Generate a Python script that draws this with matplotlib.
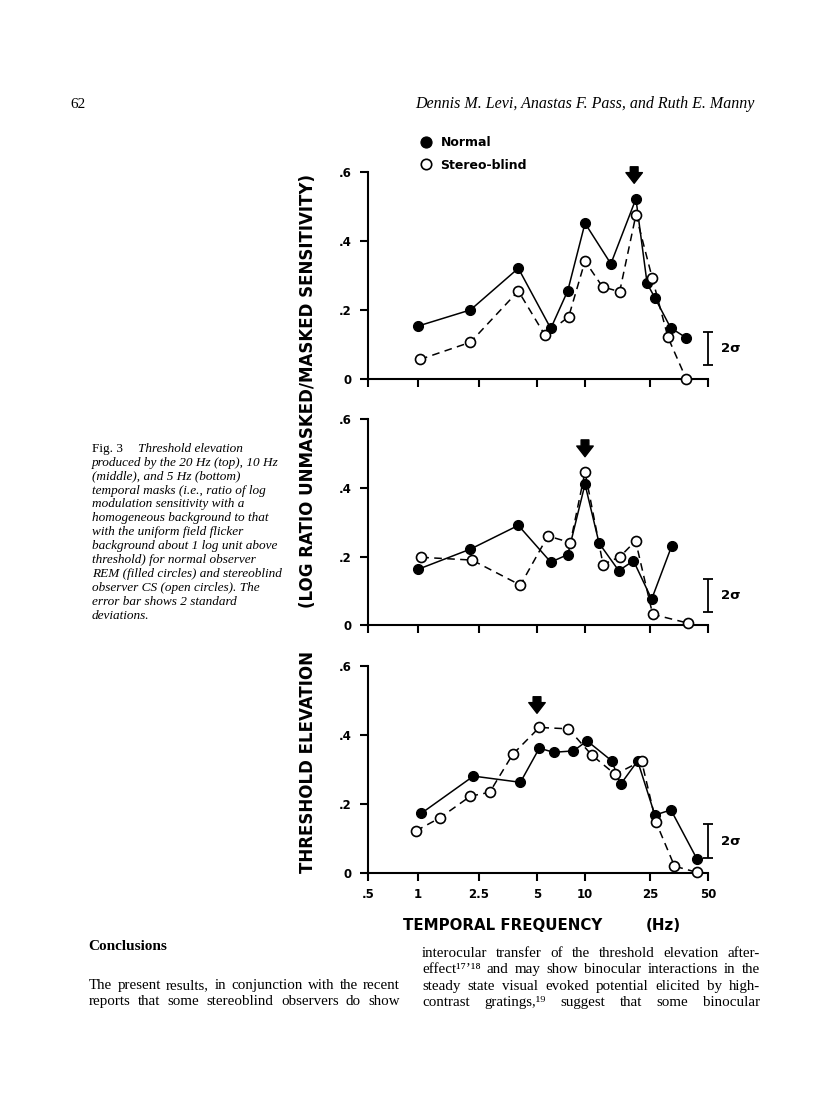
import numpy as np
import matplotlib
matplotlib.use("Agg")
import matplotlib.pyplot as plt
from matplotlib.lines import Line2D

# ---- data (frequency in Hz, threshold elevation) ----
top_normal_f = [1.0, 2.2, 4.0, 6.1, 7.8, 10.0, 14.4, 20.5, 24.0, 26.5, 32.0, 38.5]
top_normal_v = [0.153, 0.200, 0.321, 0.146, 0.256, 0.452, 0.334, 0.523, 0.277, 0.235, 0.148, 0.119]
top_stereo_f = [1.03, 2.2, 4.0, 5.6, 7.9, 10.0, 12.8, 16.3, 20.5, 25.7, 31.0, 38.5]
top_stereo_v = [0.056, 0.106, 0.255, 0.127, 0.180, 0.342, 0.267, 0.253, 0.476, 0.292, 0.120, 0.0]

mid_normal_f = [1.0, 2.2, 4.0, 6.1, 7.8, 10.0, 12.2, 16.1, 19.8, 25.5, 32.4]
mid_normal_v = [0.163, 0.222, 0.291, 0.184, 0.206, 0.411, 0.239, 0.159, 0.188, 0.076, 0.231]
mid_stereo_f = [1.05, 2.25, 4.1, 5.85, 8.1, 10.0, 12.9, 16.4, 20.4, 25.8, 39.6]
mid_stereo_v = [0.198, 0.190, 0.117, 0.260, 0.241, 0.447, 0.177, 0.200, 0.246, 0.032, 0.006]

bot_normal_f = [1.05, 2.3, 4.1, 5.17, 6.35, 8.45, 10.3, 14.6, 16.5, 21.0, 26.5, 32.1, 43.8]
bot_normal_v = [0.172, 0.280, 0.262, 0.361, 0.349, 0.353, 0.382, 0.324, 0.256, 0.324, 0.167, 0.182, 0.040]
bot_stereo_f = [0.97, 1.39, 2.2, 2.84, 3.74, 5.17, 7.87, 11.0, 15.3, 22.2, 26.8, 33.5, 43.8]
bot_stereo_v = [0.121, 0.159, 0.222, 0.233, 0.343, 0.421, 0.417, 0.341, 0.285, 0.324, 0.148, 0.019, 0.001]

mask_freq = [20, 10, 5]          # arrows: masking frequency of each panel
err_lo = [0.040, 0.040, 0.042]   # 2 sigma error bar
err_hi = [0.137, 0.134, 0.140]

x_ticks = [0.5, 1, 2.5, 5, 10, 25, 50]
x_ticklabels = [".5", "1", "2.5", "5", "10", "25", "50"]
y_ticks = [0, 0.2, 0.4, 0.6]
y_ticklabels = ["0", ".2", ".4", ".6"]

# hand-drawn axis: tick spacing in the original is not exactly logarithmic
tick_px = [0, 50, 111, 169, 217, 282, 340]


def fwd(x):
    x = np.clip(np.asarray(x, dtype=float), 1e-6, None)
    return np.interp(np.log10(x), np.log10(x_ticks), tick_px)


def inv(p):
    return 10 ** np.interp(np.asarray(p, dtype=float), tick_px, np.log10(x_ticks))


W, H = 816, 1112
fig = plt.figure(figsize=(W / 100, H / 100), dpi=100)


def fx(x):
    return x / W


def fy(y):
    return 1 - y / H


sans = dict(family="DejaVu Sans", fontweight="bold")
serif = ["Liberation Serif", "DejaVu Serif"]

panels = [
    (172.3, 378.7, top_normal_f, top_normal_v, top_stereo_f, top_stereo_v, (0.568, 0.616)),
    (419.3, 625.3, mid_normal_f, mid_normal_v, mid_stereo_f, mid_stereo_v, (0.491, 0.540)),
    (665.7, 872.7, bot_normal_f, bot_normal_v, bot_stereo_f, bot_stereo_v, (0.462, 0.510)),
]

for i, (ytop, ybot, nf, nv, sf, sv, arr) in enumerate(panels):
    ax = fig.add_axes([fx(368), fy(ybot), 340 / W, (ybot - ytop) / H])
    ax.set_xscale("function", functions=(fwd, inv))
    ax.set_xlim(0.5, 50)
    ax.set_ylim(0, 0.6)
    for s in ["top", "right"]:
        ax.spines[s].set_visible(False)
    for s in ["left", "bottom"]:
        ax.spines[s].set_linewidth(1.5)
    ax.set_xticks(x_ticks)
    ax.set_xticks([], minor=True)
    ax.set_yticks(y_ticks)
    ax.set_yticklabels(y_ticklabels, **sans)
    if i == 2:
        ax.set_xticklabels(x_ticklabels, **sans)
    else:
        ax.set_xticklabels([])
    ax.tick_params(direction="out", length=6, width=1.5, labelsize=8.5, pad=6)
    ax.tick_params(axis="x", pad=5)

    ax.plot(nf, nv, "-", color="black", lw=1.1, clip_on=False, zorder=2)
    ax.plot(sf, sv, color="black", lw=1.1, linestyle=(0, (5, 3.5)), clip_on=False, zorder=2)
    ax.plot(nf, nv, "o", color="black", ms=7.2, mew=0.8, clip_on=False, zorder=3)
    ax.plot(sf, sv, "o", mfc="white", mec="black", ms=7.2, mew=1.2, clip_on=False, zorder=4)

    # arrow marking the mask frequency
    ax.annotate("", xy=(mask_freq[i], arr[0]), xytext=(mask_freq[i], arr[1]),
                arrowprops=dict(arrowstyle="simple,head_length=0.55,head_width=0.85,tail_width=0.4",
                                color="black", shrinkA=0, shrinkB=0, mutation_scale=14),
                annotation_clip=False)

    # 2 sigma error bar
    mid = (err_lo[i] + err_hi[i]) / 2
    ax.errorbar([50], [mid], yerr=[(err_hi[i] - err_lo[i]) / 2], color="black",
                capsize=3.5, elinewidth=1.3, capthick=1.3, clip_on=False)
    ax.annotate("2σ", xy=(50, mid), xytext=(9, 0), textcoords="offset points",
                va="center", ha="left", fontsize=9.5, annotation_clip=False, **sans)

# legend
handles = [Line2D([], [], ls="none", marker="o", color="black", ms=8, mew=0.8),
           Line2D([], [], ls="none", marker="o", mfc="white", mec="black", ms=7.5, mew=1.2)]
fig.legend(handles, ["Normal", "Stereo-blind"], loc="upper left",
           bbox_to_anchor=(fx(413), fy(130)), frameon=False, handlelength=1.0,
           handletextpad=0.7, labelspacing=0.75, borderpad=0,
           prop=dict(family="DejaVu Sans", weight="bold", size=9))

# axis titles
fig.text(fx(403), fy(926), "TEMPORAL FREQUENCY", ha="left", va="center", fontsize=10.8, **sans)
fig.text(fx(646), fy(926), "(Hz)", ha="left", va="center", fontsize=10.8, **sans)
fig.text(fx(308), fy(391), "(LOG RATIO UNMASKED/MASKED SENSITIVITY)", rotation=90,
         ha="center", va="center", fontsize=12, **sans)
fig.text(fx(308), fy(762), "THRESHOLD ELEVATION", rotation=90,
         ha="center", va="center", fontsize=12, **sans)

# page header
fig.text(fx(70), fy(108.5), "62", family=serif, fontsize=11, va="baseline")
fig.text(fx(755), fy(108.5), "Dennis M. Levi, Anastas F. Pass, and Ruth E. Manny",
         family=serif, style="italic", fontsize=11.5, ha="right", va="baseline")

# caption
caption = [
    "Threshold elevation",
    "produced by the 20 Hz (top), 10 Hz",
    "(middle), and 5 Hz (bottom)",
    "temporal masks (i.e., ratio of log",
    "modulation sensitivity with a",
    "homogeneous background to that",
    "with the uniform field flicker",
    "background about 1 log unit above",
    "threshold) for normal observer",
    "REM (filled circles) and stereoblind",
    "observer CS (open circles). The",
    "error bar shows 2 standard",
    "deviations.",
]
fig.text(fx(92), fy(451.7), "Fig. 3", family=serif, fontsize=9.5, va="baseline")
for k, line in enumerate(caption):
    x0 = 138 if k == 0 else 92
    fig.text(fx(x0), fy(451.7 + k * 13.94), line, family=serif, style="italic",
             fontsize=9.5, va="baseline")

# body text, justified
renderer = fig.canvas.get_renderer()


def justify(line, x0, x1, y, **kw):
    words = line.split()
    texts = [fig.text(0, fy(y), w, va="baseline", **kw) for w in words]
    widths = [t.get_window_extent(renderer).width for t in texts]
    gap = (x1 - x0 - sum(widths)) / max(len(words) - 1, 1)
    x = x0
    for t, w in zip(texts, widths):
        t.set_x(fx(x))
        x += w + gap


fig.text(fx(88), fy(949.5), "Conclusions", family=serif, fontweight="bold",
         fontsize=11, va="baseline")
left_col = ["The present results, in conjunction with the recent",
            "reports that some stereoblind observers do show"]
right_col = ["interocular transfer of the threshold elevation after-",
             "effect\u00b9\u2077\u2019\u00b9\u2078 and may show binocular interactions in the",
             "steady state visual evoked potential elicited by high-",
             "contrast gratings,\u00b9\u2079 suggest that some binocular"]
for k, line in enumerate(left_col):
    justify(line, 89, 400, 989 + k * 16.3, family=serif, fontsize=10.8)
for k, line in enumerate(right_col):
    justify(line, 422, 760, 957 + k * 16.3, family=serif, fontsize=10.8)

fig.savefig("out.png", dpi=100)
